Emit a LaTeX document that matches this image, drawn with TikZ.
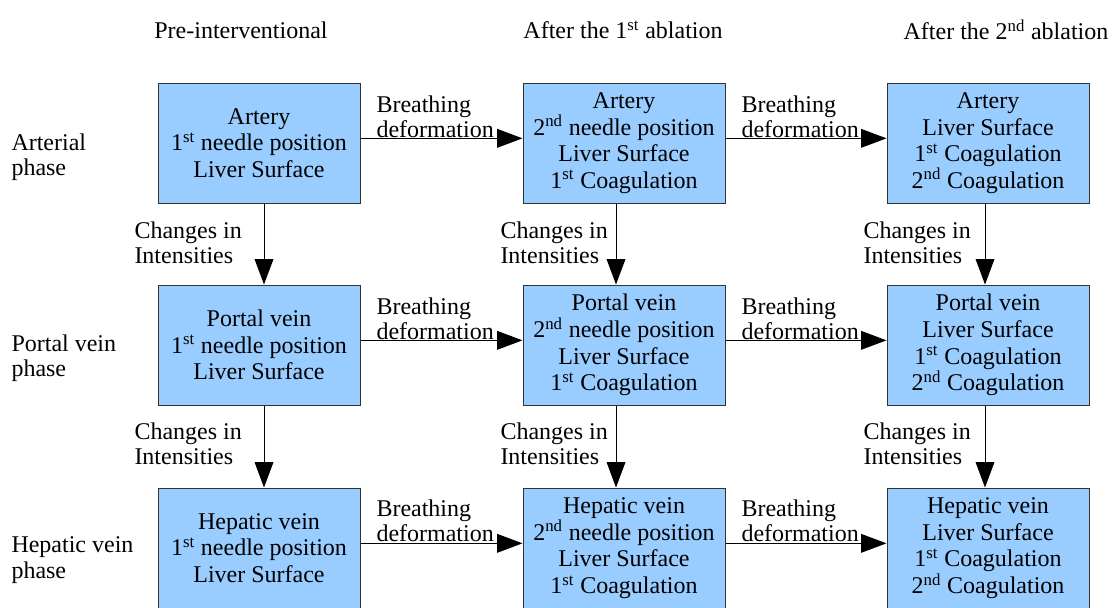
\documentclass[tikz,border=0pt]{standalone}
\usepackage{fontspec}
\setmainfont{Liberation Serif}
\usetikzlibrary{arrows.meta}

\definecolor{boxblue}{HTML}{99CCFF}
\tikzset{every picture/.style={line width=0.75pt}}
\tikzset{
  stagebox/.style={draw=black!80, fill=boxblue, minimum width=151.5pt, minimum height=90pt, align=center, inner sep=0.75pt, font=\fontsize{18}{20}\selectfont},
  note/.style={anchor=west, align=left, inner sep=0.75pt, font=\fontsize{18}{19}\selectfont},
  header/.style={inner sep=0.75pt, font=\fontsize{18}{20}\selectfont},
  flow/.style={-{Triangle[length=19pt,width=14pt]}},
}
\newcommand{\nth}[2]{#1\textsuperscript{#2}}

\begin{document}
\begin{tikzpicture}[x=0.75pt,y=0.75pt,yscale=-1,xscale=1]
\useasboundingbox (0,0) rectangle (1116,607);

% Column headers
\node (hpre) [header] at (241,30) {Pre-interventional};
\node (hfirst) [header] at (623,30) {After the \nth{1}{st} ablation};
\node (hsecond) [header] at (1006,30) {After the \nth{2}{nd} ablation};

% Row labels
\node (lart) [note] at (10,157) {Arterial\\phase};
\node (lpor) [note] at (10,358) {Portal vein\\phase};
\node (lhep) [note] at (10,560) {Hepatic vein\\phase};

% Boxes: arterial phase
\node (art1) [stagebox] at (259,143) {Artery\\\nth{1}{st} needle position\\Liver Surface};
\node (art2) [stagebox] at (624,143) {Artery\\\nth{2}{nd} needle position\\Liver Surface\\\nth{1}{st} Coagulation};
\node (art3) [stagebox] at (988,143) {Artery\\Liver Surface\\\nth{1}{st} Coagulation\\\nth{2}{nd} Coagulation};
% Boxes: portal vein phase
\node (por1) [stagebox] at (259,345) {Portal vein\\\nth{1}{st} needle position\\Liver Surface};
\node (por2) [stagebox] at (624,345) {Portal vein\\\nth{2}{nd} needle position\\Liver Surface\\\nth{1}{st} Coagulation};
\node (por3) [stagebox] at (988,345) {Portal vein\\Liver Surface\\\nth{1}{st} Coagulation\\\nth{2}{nd} Coagulation};
% Boxes: hepatic vein phase
\node (hep1) [stagebox] at (259,548) {Hepatic vein\\\nth{1}{st} needle position\\Liver Surface};
\node (hep2) [stagebox] at (624,548) {Hepatic vein\\\nth{2}{nd} needle position\\Liver Surface\\\nth{1}{st} Coagulation};
\node (hep3) [stagebox] at (988,548) {Hepatic vein\\Liver Surface\\\nth{1}{st} Coagulation\\\nth{2}{nd} Coagulation};

% Breathing deformation arrows
\draw [flow] ([yshift=-3.5pt]art1.east) -- ([yshift=-3.5pt]art2.west);
\draw [flow] ([yshift=-3.5pt]art2.east) -- ([yshift=-3.5pt]art3.west);
\draw [flow] ([yshift=-3.5pt]por1.east) -- ([yshift=-3.5pt]por2.west);
\draw [flow] ([yshift=-3.5pt]por2.east) -- ([yshift=-3.5pt]por3.west);
\draw [flow] ([yshift=-3.5pt]hep1.east) -- ([yshift=-3.5pt]hep2.west);
\draw [flow] ([yshift=-3.5pt]hep2.east) -- ([yshift=-3.5pt]hep3.west);

% Changes in intensities arrows
\draw [flow] ([xshift=3.75pt]art1.south) -- ([xshift=3.75pt]por1.north);
\draw [flow] ([xshift=3.75pt]por1.south) -- ([xshift=3.75pt]hep1.north);
\draw [flow] ([xshift=-6pt]art2.south) -- ([xshift=-6pt]por2.north);
\draw [flow] ([xshift=-6pt]por2.south) -- ([xshift=-6pt]hep2.north);
\draw [flow] ([xshift=-2.25pt]art3.south) -- ([xshift=-2.25pt]por3.north);
\draw [flow] ([xshift=-2.25pt]por3.south) -- ([xshift=-2.25pt]hep3.north);

% Arrow labels
\node (bart1) [note] at (375,117) {Breathing\\deformation};
\node (bart2) [note] at (740,117) {Breathing\\deformation};
\node (bpor1) [note] at (375,319) {Breathing\\deformation};
\node (bpor2) [note] at (740,319) {Breathing\\deformation};
\node (bhep1) [note] at (375,521) {Breathing\\deformation};
\node (bhep2) [note] at (740,521) {Breathing\\deformation};
\node (cart1) [note] at (133,243) {Changes in\\Intensities};
\node (cart2) [note] at (499,243) {Changes in\\Intensities};
\node (cart3) [note] at (862,243) {Changes in\\Intensities};
\node (cpor1) [note] at (133,444) {Changes in\\Intensities};
\node (cpor2) [note] at (499,444) {Changes in\\Intensities};
\node (cpor3) [note] at (862,444) {Changes in\\Intensities};

\end{tikzpicture}
\end{document}
